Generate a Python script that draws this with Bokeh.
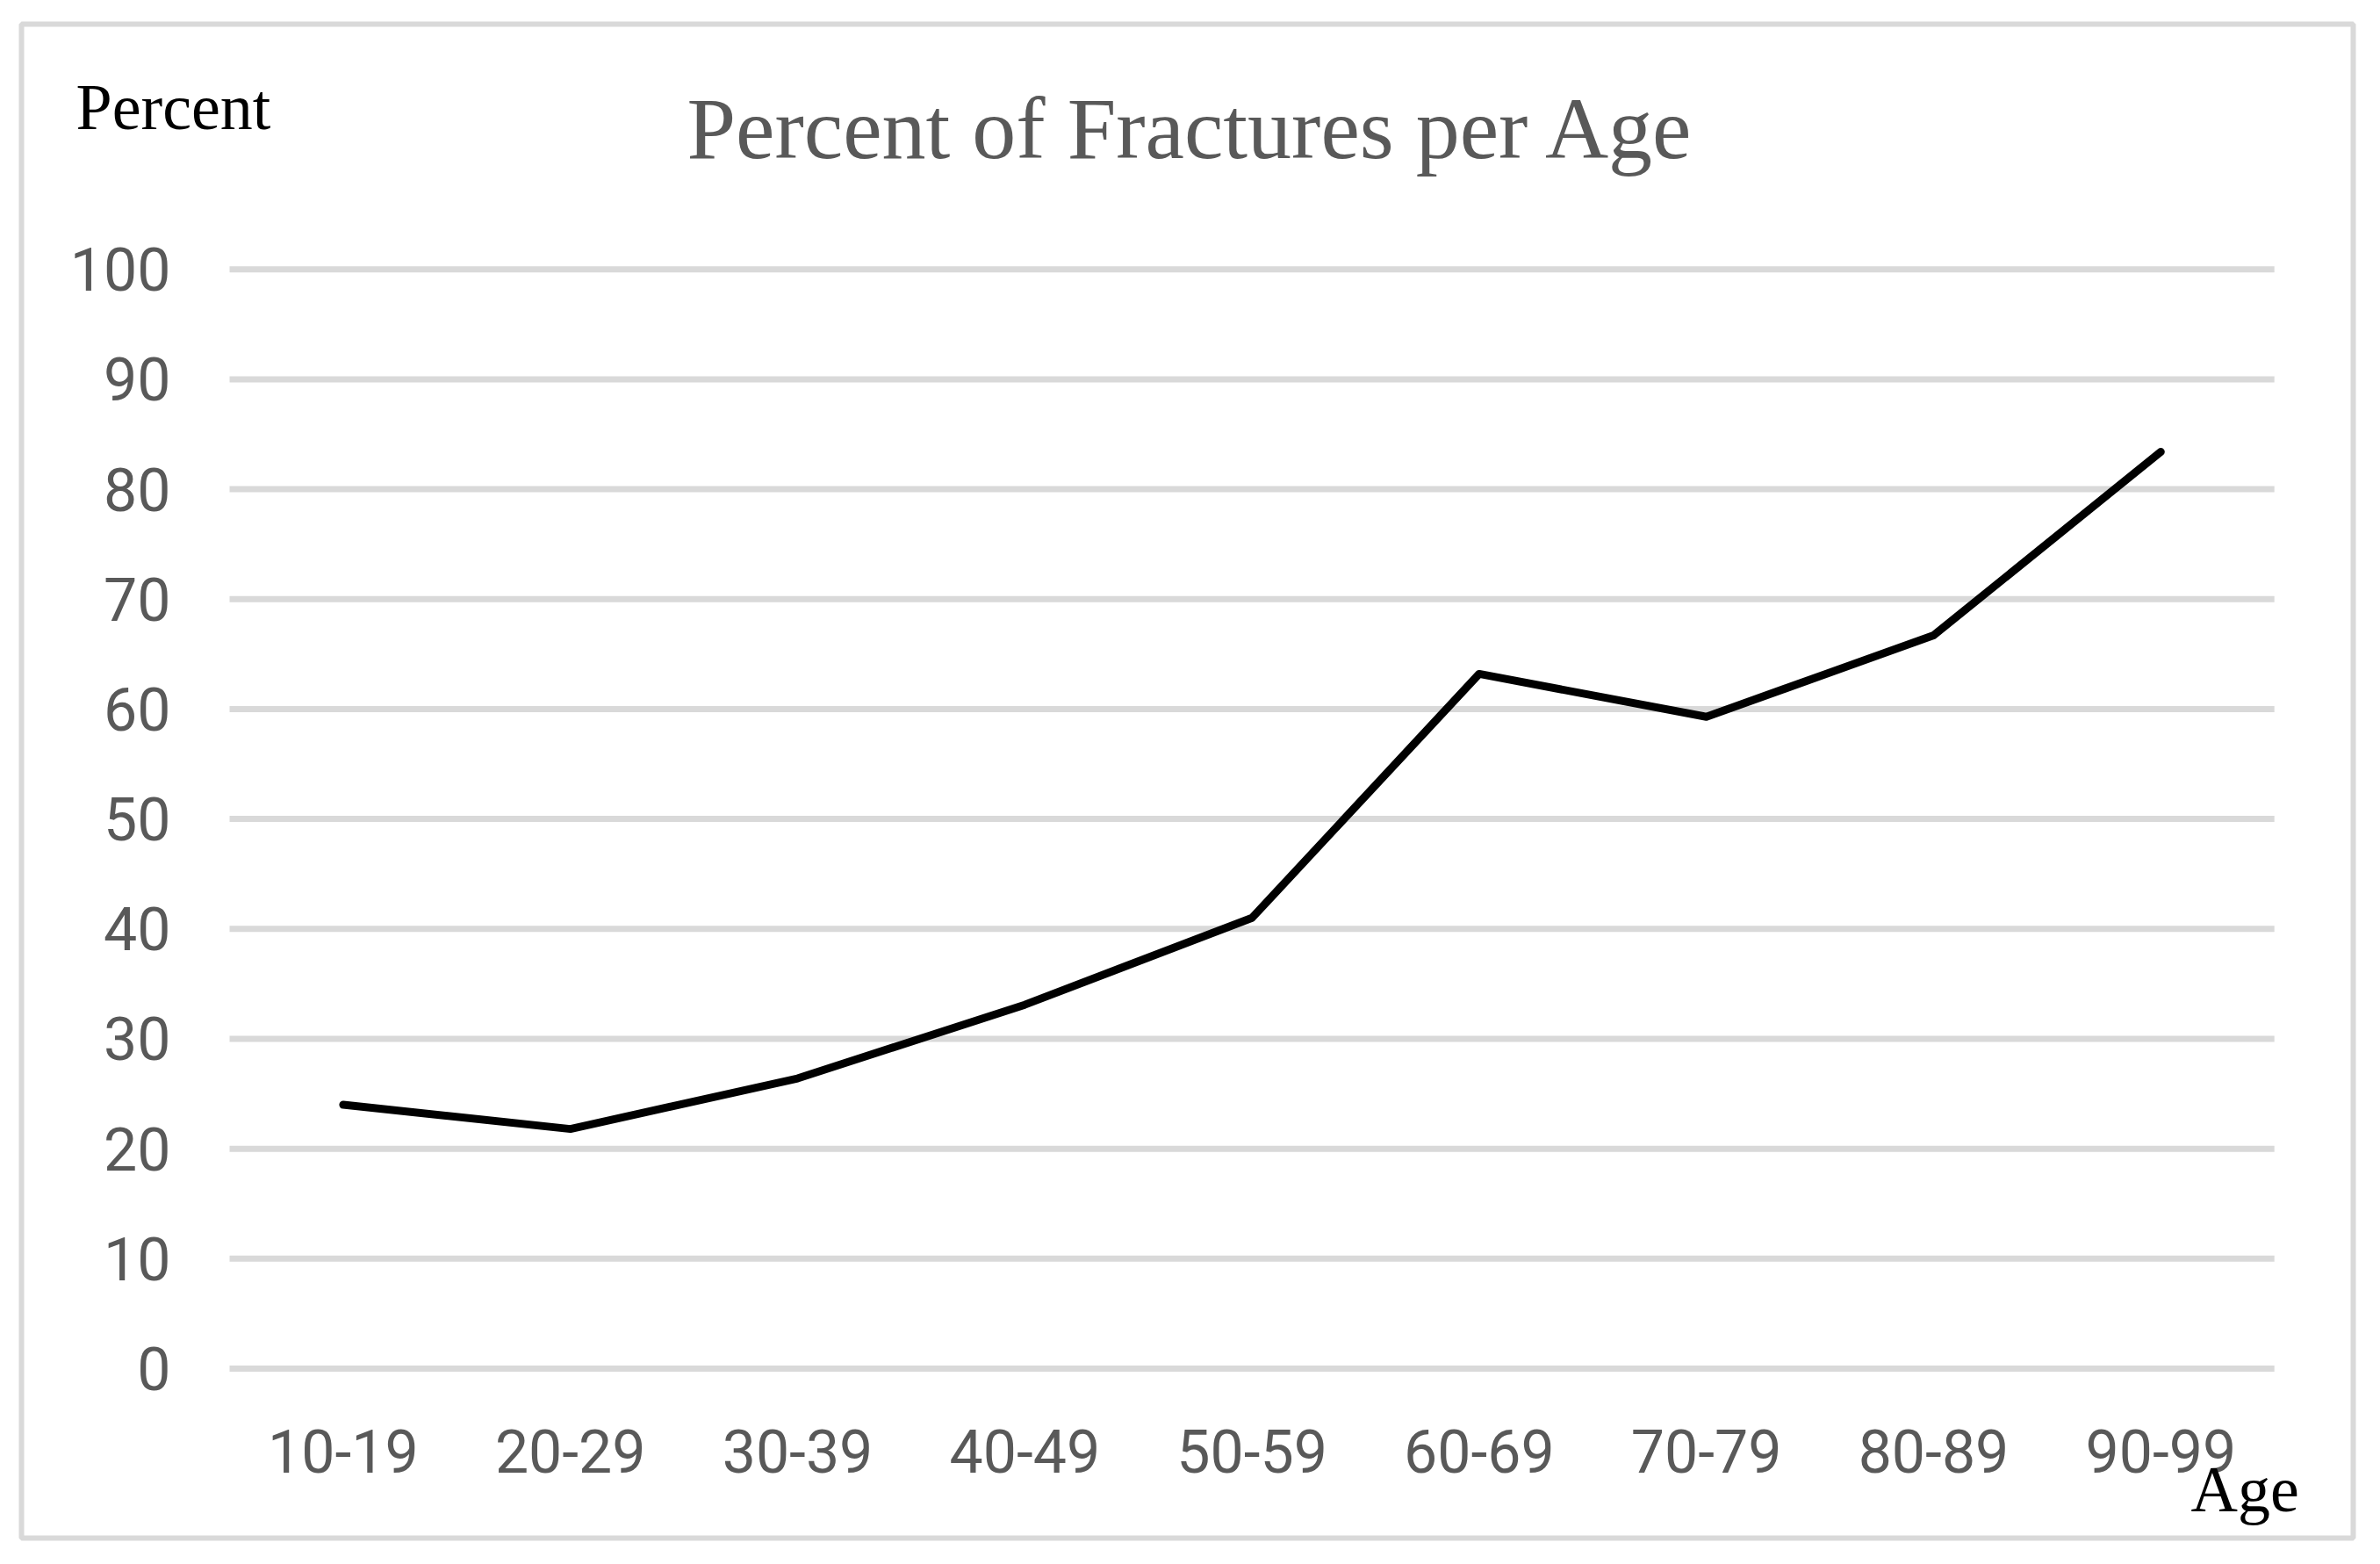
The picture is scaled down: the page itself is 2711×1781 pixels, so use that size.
from bokeh.plotting import figure
from bokeh.models import Range1d, FixedTicker, Label, LinearAxis
from bokeh.embed import file_html
from bokeh.resources import INLINE

# ---- data ----
age_groups = ["10-19", "20-29", "30-39", "40-49", "50-59", "60-69", "70-79", "80-89", "90-99"]
percent_fractures = [24.0, 21.8, 26.4, 33.1, 41.0, 63.2, 59.3, 66.7, 83.4]
y_ticks = [0, 10, 20, 30, 40, 50, 60, 70, 80, 90, 100]

title_text = "Percent of Fractures per Age"
y_label_text = "Percent"
x_label_text = "Age"

# category slots: category i sits in the middle of slot [i, i+1]
x_pos = [i + 0.5 for i in range(len(age_groups))]
n_cat = len(age_groups)

# ---- layout ----
W, H = 2700, 1771
B_LEFT, B_RIGHT, B_TOP, B_BOTTOM = 24, 20, 27, 20

p = figure(
    width=W, height=H,
    x_range=Range1d(-0.9158, 9.347),
    y_range=Range1d(-15.42, 122.31),
    x_axis_type=None, y_axis_type=None,
    output_backend="svg", toolbar_location=None,
    min_border_left=B_LEFT, min_border_right=B_RIGHT,
    min_border_top=B_TOP, min_border_bottom=B_BOTTOM,
)
p.background_fill_color = "white"
p.border_fill_color = "white"
p.outline_line_color = "#D9D9D9"
p.outline_line_width = 6
p.xgrid.visible = False
p.ygrid.visible = False

# horizontal gridlines across the plot area
p.segment(x0=[0] * len(y_ticks), x1=[n_cat] * len(y_ticks), y0=y_ticks, y1=y_ticks,
          line_color="#D9D9D9", line_width=7)

# axes drawn inside the chart area
yax = LinearAxis(fixed_location=0, ticker=FixedTicker(ticks=y_ticks))
xax = LinearAxis(fixed_location=0, ticker=FixedTicker(ticks=x_pos),
                 major_label_overrides={x: lab for x, lab in zip(x_pos, age_groups)})
for ax in (xax, yax):
    ax.axis_line_color = None
    ax.major_tick_line_color = None
    ax.minor_tick_line_color = None
    ax.major_label_text_font = "Roboto"
    ax.major_label_text_font_size = "68px"
    ax.major_label_text_color = "#595959"
yax.major_label_standoff = 61
xax.major_label_standoff = 64
p.add_layout(yax, "left")
p.add_layout(xax, "below")

# data line
p.line(x=x_pos, y=percent_fractures, line_color="black", line_width=9,
       line_join="round", line_cap="round")

# texts (screen units relative to the chart area's bottom-left corner)
p.add_layout(Label(x=758, y=1605, x_units="screen", y_units="screen", text=title_text,
                   text_font="Liberation Serif", text_font_size="100px", text_color="#595959",
                   text_align="left", text_baseline="alphabetic"))
p.add_layout(Label(x=62, y=1630, x_units="screen", y_units="screen", text=y_label_text,
                   text_font="Liberation Serif", text_font_size="74px", text_color="black",
                   text_align="left", text_baseline="alphabetic"))
p.add_layout(Label(x=2471, y=56, x_units="screen", y_units="screen", text=x_label_text,
                   text_font="Liberation Serif", text_font_size="74px", text_color="black",
                   text_align="left", text_baseline="alphabetic"))

open("out.html", "w").write(file_html(p, INLINE))
